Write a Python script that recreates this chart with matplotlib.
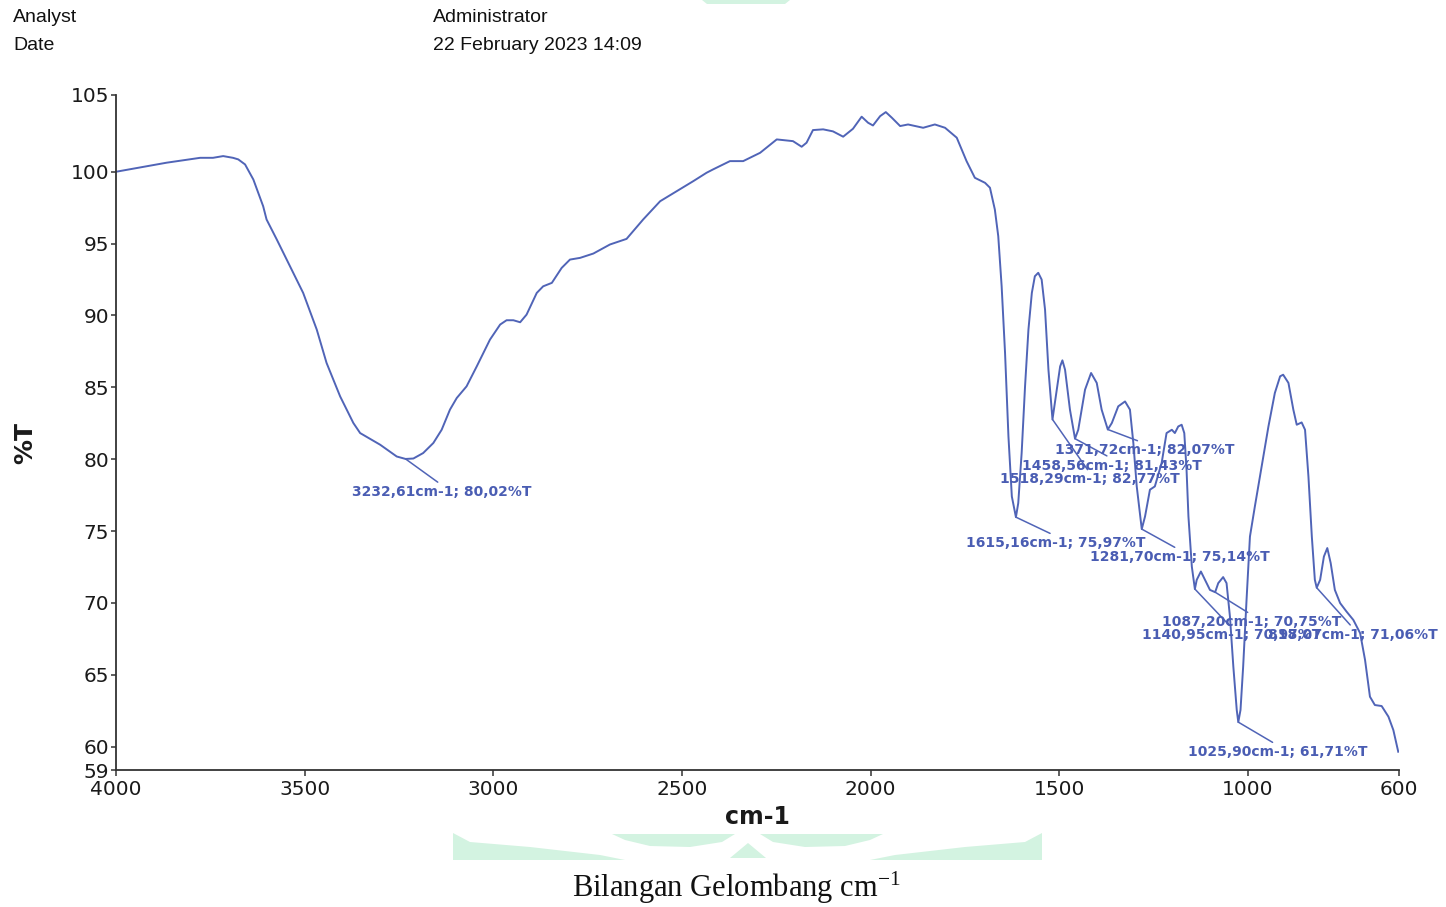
#!/usr/bin/env python3
"""FTIR spectrum (%T vs wavenumber) with picked-peak labels."""

import matplotlib
matplotlib.use('Agg')
import matplotlib.pyplot as plt
from matplotlib.patches import Polygon
from matplotlib import transforms

# ---------------------------------------------------------------------------
# Spectrum data
# ---------------------------------------------------------------------------

wavenumber = [
    4000, 3866, 3777, 3743, 3716, 3690, 3676, 3658, 3636, 3610, 3601, 3574,
    3539, 3504, 3468, 3442, 3406, 3371, 3353, 3300, 3256, 3232.61, 3212, 3186,
    3159, 3137, 3115, 3097, 3071, 3044, 3009, 2982, 2965, 2947, 2929, 2912,
    2885, 2868, 2845, 2819, 2797, 2770, 2735, 2691, 2647, 2603, 2558, 2514,
    2470, 2435, 2418, 2373, 2338, 2293, 2249, 2206, 2183, 2170, 2153, 2126,
    2100, 2073, 2047, 2024, 2007, 1994, 1975, 1960, 1944, 1922, 1901, 1861,
    1830, 1803, 1772, 1746, 1724, 1697, 1684, 1671, 1662, 1653, 1644, 1635,
    1626, 1615.16, 1609, 1600, 1591, 1582, 1573, 1565, 1556, 1547, 1538, 1529,
    1518.29, 1507, 1498, 1492, 1485, 1472, 1458.56, 1450, 1432, 1416, 1401,
    1388, 1371.72, 1361, 1344, 1326, 1313, 1304, 1295, 1281.70, 1273, 1260,
    1247, 1229, 1216, 1202, 1194, 1185, 1176, 1169, 1163, 1158, 1149, 1140.95,
    1136, 1125, 1114, 1101, 1087.20, 1079, 1066, 1057, 1048, 1039, 1030,
    1025.90, 1020, 1013, 1004, 995, 982, 964, 946, 929, 915, 907, 893, 880,
    871, 858, 849, 840, 831, 823, 818.07, 809, 799, 790, 781, 770, 756, 739,
    721, 703, 690, 677, 664, 646, 628, 615, 602,
]

transmittance = [
    100.00, 100.63, 100.97, 100.97, 101.09, 100.97, 100.86, 100.51, 99.46,
    97.60, 96.68, 95.29, 93.43, 91.57, 89.02, 86.70, 84.37, 82.52, 81.82,
    81.01, 80.19, 80.02, 80.05, 80.43, 81.13, 82.05, 83.45, 84.26, 85.07,
    86.46, 88.32, 89.37, 89.67, 89.67, 89.53, 90.06, 91.57, 92.03, 92.27,
    93.31, 93.89, 94.01, 94.31, 94.94, 95.33, 96.68, 97.95, 98.65, 99.35,
    99.93, 100.16, 100.74, 100.74, 101.32, 102.25, 102.13, 101.74, 102.02,
    102.90, 102.95, 102.81, 102.44, 102.99, 103.83, 103.41, 103.22, 103.87,
    104.15, 103.76, 103.18, 103.29, 103.06, 103.29, 103.06, 102.37, 100.74,
    99.58, 99.23, 98.89, 97.37, 95.52, 92.03, 87.40, 81.59, 77.41, 75.97,
    76.95, 80.43, 85.07, 89.02, 91.57, 92.73, 92.97, 92.50, 90.41, 86.23,
    82.77, 84.84, 86.46, 86.88, 86.23, 83.45, 81.43, 82.05, 84.84, 86.00,
    85.31, 83.45, 82.07, 82.52, 83.68, 84.02, 83.45, 81.13, 78.11, 75.14,
    76.02, 77.88, 78.11, 79.74, 81.82, 82.05, 81.82, 82.28, 82.40, 81.82,
    79.27, 76.02, 72.53, 70.97, 71.61, 72.19, 71.61, 70.91, 70.75, 71.38,
    71.80, 71.38, 69.05, 65.57, 62.56, 61.71, 62.56, 65.57, 70.22, 74.62,
    76.71, 79.50, 82.28, 84.61, 85.77, 85.88, 85.31, 83.45, 82.40, 82.56,
    82.05, 78.80, 74.62, 71.61, 71.06, 71.61, 73.23, 73.82, 72.77, 70.91,
    69.99, 69.40, 68.82, 67.90, 66.04, 63.48, 62.90, 62.83, 62.09, 61.16,
    59.65,
]

# picked peaks (cm-1, %T)
peak_wn = [3232.61, 1615.16, 1518.29, 1458.56, 1371.72, 1281.70,
           1140.95, 1087.20, 1025.90, 818.07]
peak_t = [80.02, 75.97, 82.77, 81.43, 82.07, 75.14,
          70.97, 70.75, 61.71, 71.06]

# label placement, pixels from the peak
label_offsets = [(36, -33), (40, -26), (37, -60), (37, -27), (37, -21),
                 (38, -28), (37, -46), (37, -30), (39, -30), (36, -47)]

x_ticks = [4000, 3500, 3000, 2500, 2000, 1500, 1000, 600]
y_lo, y_hi = 58.38, 105.34
y_ticks = [y_lo, 60, 65, 70, 75, 80, 85, 90, 95, 100, y_hi]
y_ticklabels = ['59', '60', '65', '70', '75', '80', '85', '90', '95', '100', '105']

LINE = '#5064b7'
LABEL = '#4a5db3'
MINT = '#d3f3e1'


def fmt(v):
    return f'{v:.2f}'.replace('.', ',')


def main():
    W, H = 1446, 907
    fig = plt.figure(figsize=(W / 100, H / 100), dpi=100)
    ax = fig.add_axes([116 / W, 1 - 770 / H, 1283 / W, 675 / H])

    ax.plot(wavenumber, transmittance, color=LINE, lw=1.4,
            solid_joinstyle='round')

    for wn, t, (dx, dy) in zip(peak_wn, peak_t, label_offsets):
        ax.annotate(f'{fmt(wn)}cm-1; {fmt(t)}%T', xy=(wn, t),
                    xytext=(dx, dy), textcoords='offset pixels',
                    ha='center', va='center', fontsize=10, fontweight='bold',
                    family='DejaVu Sans', color=LABEL,
                    arrowprops=dict(arrowstyle='-', color=LINE, lw=1.1,
                                    shrinkA=0, shrinkB=0, relpos=(0.5, 1.0)))

    ax.set_xlim(4000, 600)
    ax.set_ylim(y_lo, y_hi)
    ax.set_xticks(x_ticks)
    ax.set_xticklabels([str(v) for v in x_ticks])
    ax.set_yticks(y_ticks)
    ax.set_yticklabels(y_ticklabels)

    for side in ('top', 'right'):
        ax.spines[side].set_visible(False)
    for side in ('left', 'bottom'):
        ax.spines[side].set_color('#333333')
        ax.spines[side].set_linewidth(1.3)

    ax.tick_params(axis='both', colors='#333333', labelcolor='#1a1a1a',
                   labelsize=14.5, width=1.1)
    ax.tick_params(axis='y', length=3.6, pad=1.2)
    ax.tick_params(axis='x', length=4.5, pad=2.5)

    ax.set_ylabel('%T', fontsize=18, fontweight='bold', color='#1a1a1a')
    ax.yaxis.set_label_coords(-0.061, 0.484)
    ax.set_xlabel('cm-1', fontsize=17, fontweight='bold', color='#1a1a1a')
    ax.xaxis.set_label_coords(0.5, -0.052)

    # report header
    hdr = dict(fontsize=14, family='Liberation Sans', va='center', color='#111111')
    fig.text(13 / W, 1 - 17 / H, 'Analyst', **hdr)
    fig.text(13 / W, 1 - 46 / H, 'Date', **hdr)
    fig.text(433 / W, 1 - 17 / H, 'Administrator', **hdr)
    fig.text(433 / W, 1 - 46 / H, '22 February 2023 14:09', **hdr)

    # faint logo strip behind the caption
    px = transforms.Affine2D().scale(1 / W, -1 / H).translate(0, 1) + fig.transFigure
    shapes = [
        [(453, 833), (470, 842), (530, 847), (600, 855), (625, 860), (453, 860)],
        [(1042, 833), (1025, 842), (965, 847), (895, 855), (870, 860), (1042, 860)],
        [(612, 834), (735, 834), (722, 842), (690, 847), (650, 846), (625, 840)],
        [(883, 834), (760, 834), (773, 842), (805, 847), (845, 846), (870, 840)],
        [(730, 858), (748, 843), (766, 858)],
        [(702, 0), (790, 0), (785, 4), (707, 4)],
    ]
    for pts in shapes:
        fig.patches.append(Polygon(pts, closed=True, transform=px,
                                   facecolor=MINT, edgecolor='none', zorder=0))

    plt.rcParams['mathtext.fontset'] = 'custom'
    plt.rcParams['mathtext.rm'] = 'Liberation Serif'
    plt.rcParams['mathtext.it'] = 'Liberation Serif'
    fig.text(736 / W, 1 - 888 / H, r'Bilangan Gelombang cm$^{\mathrm{-1}}$',
             fontsize=22, family='Liberation Serif', ha='center', va='center',
             color='#111111')

    fig.savefig('out.png', dpi=100)
    plt.close(fig)


if __name__ == '__main__':
    main()
